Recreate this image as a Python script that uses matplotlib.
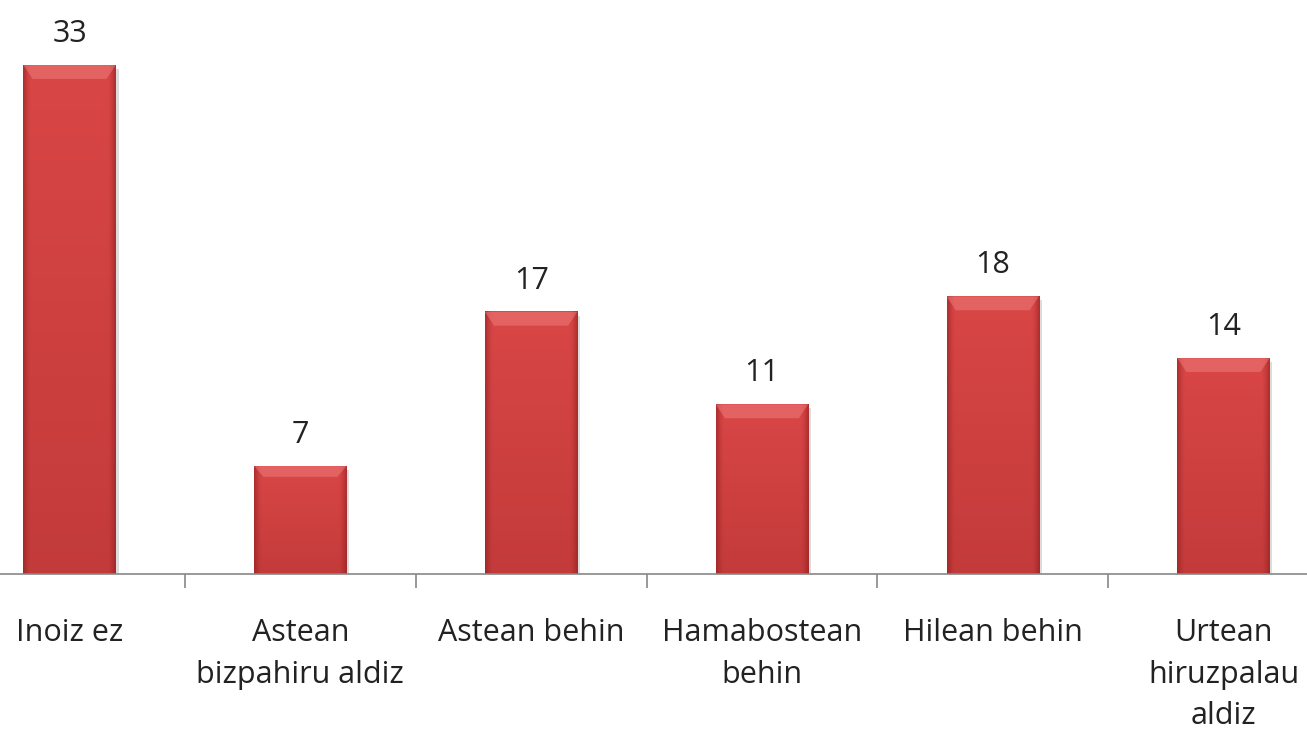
import numpy as np
import matplotlib.pyplot as plt
from matplotlib.colors import to_rgb

# Datuak
categories = ['Inoiz ez', 'Astean\nbizpahiru aldiz', 'Astean behin',
              'Hamabostean\nbehin', 'Hilean behin', 'Urtean\nhiruzpalau\naldiz']
values = [33, 7, 17, 11, 18, 14]

plt.rcParams['font.family'] = ['Open Sans', 'DejaVu Sans']

fig = plt.figure(figsize=(13.07, 7.33), dpi=100)
ax = fig.add_axes([0, 0.2169, 1, 0.7831])

x = np.arange(len(categories))
width = 0.4


def bar_image(n=60, m=200):
    # bevel-like gradient: darker near the sides and bottom
    base = np.array(to_rgb('#d94646'))
    dark = np.array(to_rgb('#8c1d1d'))
    u = np.linspace(0, 1, n)
    side = np.clip(1 - np.minimum(u, 1 - u) / 0.08, 0, 1) ** 1.5
    img = np.ones((m, n, 3)) * base
    img = img * (1 - 0.55 * side[None, :, None]) + dark * 0.55 * side[None, :, None]
    v = np.linspace(0, 1, m)[:, None, None]
    img = img * (1 - 0.28 * v) + dark * 0.28 * v
    return img


light = to_rgb('#ef7f7f')
for xi, val in zip(x, values):
    # shadow
    ax.bar(xi + 0.012, val, width, bottom=-0.25, color='#bbbbbb', alpha=0.5, zorder=1)
    ax.imshow(bar_image(), extent=(xi - width / 2, xi + width / 2, 0, val),
              aspect='auto', zorder=2, interpolation='bilinear')
    # top bevel highlight
    top_h = min(0.9, val * 0.1)
    ax.fill([xi - width / 2, xi + width / 2, xi + width / 2 - 0.04, xi - width / 2 + 0.04],
            [val, val, val - top_h, val - top_h], color=light, alpha=0.5, lw=0, zorder=3)
    ax.text(xi, val + 1.5, str(val), ha='center', va='baseline', fontsize=22, color='#222222')

ax.set_xlim(-0.3016, 5.362)
ax.set_ylim(0, 37.22)

for s in ['top', 'right', 'left']:
    ax.spines[s].set_visible(False)
ax.spines['bottom'].set_color('#888888')
ax.spines['bottom'].set_linewidth(1.2)
ax.set_yticks([])

ax.set_xticks(x[:-1] + 0.5)
ax.set_xticklabels([])
ax.tick_params(axis='x', length=10, color='#888888', width=1.2)
ax.set_xticks(x, minor=True)
ax.set_xticklabels(categories, minor=True, fontsize=22, color='#222222', linespacing=1.5)
ax.tick_params(axis='x', which='minor', length=0, pad=32)

fig.savefig('out.png', dpi=100)
